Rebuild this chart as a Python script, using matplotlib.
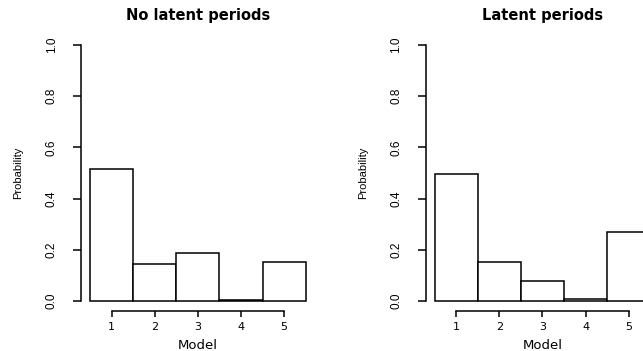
import matplotlib
matplotlib.use('Agg')
import matplotlib.pyplot as plt

models = [1, 2, 3, 4, 5]
model_labels = ['1', '2', '3', '4', '5']
no_latent = [0.516, 0.145, 0.186, 0.003, 0.152]
latent = [0.496, 0.151, 0.078, 0.007, 0.268]
titles = ['No latent periods', 'Latent periods']
yticks = [0.0, 0.2, 0.4, 0.6, 0.8, 1.0]
ytick_labels = ['0.0', '0.2', '0.4', '0.6', '0.8', '1.0']

narrow = ['Liberation Sans Narrow', 'Liberation Sans', 'DejaVu Sans']

fig = plt.figure(figsize=(6.43, 3.51), dpi=100)
W, H = 643, 351
bottom = (H - 311.2) / H
height = 276.4 / H
width = 232.9 / W
lefts = [81.4 / W, 426 / W]

for left, vals, title in zip(lefts, [no_latent, latent], titles):
    ax = fig.add_axes([left, bottom, width, height])
    ax.bar(models, vals, width=1.0, color='white', edgecolor='black', linewidth=1.1)
    ax.set_xlim(0.3, 5.7)
    ax.set_ylim(-0.04, 1.04)

    for s in ['top', 'right']:
        ax.spines[s].set_visible(False)
    ax.spines['left'].set_bounds(0, 1)
    ax.spines['bottom'].set_bounds(1, 5)
    ax.spines['left'].set_linewidth(1.1)
    ax.spines['bottom'].set_linewidth(1.1)

    ax.set_xticks(models)
    ax.set_xticklabels(model_labels, fontsize=8)
    ax.set_yticks(yticks)
    ax.set_yticklabels(ytick_labels, family=narrow, fontsize=8.5, rotation=90)
    for lbl in ax.get_yticklabels():
        lbl.set_va('center')
    ax.tick_params(axis='x', length=4, width=1.1, pad=4)
    ax.tick_params(axis='y', length=6, width=1.1, pad=11)

    ax.set_xlabel('Model', fontsize=9.5)
    ax.xaxis.set_label_coords(0.5, -0.10)
    ax.set_ylabel('Probability', family=narrow, fontsize=8)
    ax.yaxis.set_label_coords(-0.25, 0.5)
    ax.set_title(title, fontsize=10.5, fontweight='bold', pad=11)

fig.savefig('out.png', dpi=100)
